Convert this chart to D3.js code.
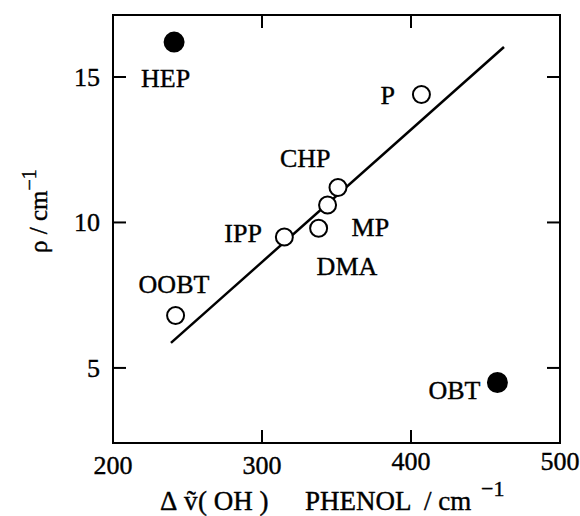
<!DOCTYPE html>
<html>
<head>
<meta charset="utf-8">
<script src="https://cdn.jsdelivr.net/npm/d3@7"></script>
<style>
  body { margin: 0; background: #fff; }
  text { font-family: "Liberation Serif", "DejaVu Serif", serif; fill: #000; stroke: #000; stroke-width: 0.4px; }
</style>
</head>
<body>
<svg id="chart" width="580" height="516"></svg>
<script>
// data
const names = ["HEP", "P", "CHP", "MP", "DMA", "IPP", "OOBT", "OBT"];
const dnu = [241, 407, 351, 344, 338, 315, 242, 458];
const rho = [16.2, 14.4, 11.2, 10.6, 9.8, 9.5, 6.8, 4.5];
const filled = [true, false, false, false, false, false, false, true];
const fitX = [238.9, 462.4];
const fitY = [5.86, 16.03];
const xTicks = [200, 300, 400, 500];
const yTicks = [5, 10, 15];

// label placement relative to the point (px)
const labelDx = [-33, -41, -58, 24, -2, -60, -37, -69];
const labelDy = [45, 10, -21, 31, 47, 5, -23, 17];

const svg = d3.select("#chart");
const pL = 113, pR = 560, pT = 15, pB = 443;

const x = d3.scaleLinear().domain([200, 500]).range([pL, pR]);
const y = d3.scaleLinear().domain([2.42, 17.13]).range([pB, pT]);

// frame
svg.append("rect")
  .attr("x", pL).attr("y", pT)
  .attr("width", pR - pL).attr("height", pB - pT)
  .attr("fill", "none").attr("stroke", "#000").attr("stroke-width", 2);

// ticks pointing inwards on all four sides
const tk = 13;
svg.selectAll(".ytl").data(yTicks).join("line")
  .attr("x1", pL).attr("x2", pL + tk)
  .attr("y1", d => y(d)).attr("y2", d => y(d))
  .attr("stroke", "#000").attr("stroke-width", 2);
svg.selectAll(".ytr").data(yTicks).join("line")
  .attr("x1", pR).attr("x2", pR - tk)
  .attr("y1", d => y(d)).attr("y2", d => y(d))
  .attr("stroke", "#000").attr("stroke-width", 2);
const innerX = xTicks.slice(1, -1);
svg.selectAll(".xtb").data(innerX).join("line")
  .attr("x1", d => x(d)).attr("x2", d => x(d))
  .attr("y1", pB).attr("y2", pB - tk)
  .attr("stroke", "#000").attr("stroke-width", 2);
svg.selectAll(".xtt").data(innerX).join("line")
  .attr("x1", d => x(d)).attr("x2", d => x(d))
  .attr("y1", pT).attr("y2", pT + tk)
  .attr("stroke", "#000").attr("stroke-width", 2);

// tick labels
svg.selectAll(".ylab").data(yTicks).join("text")
  .attr("x", pL - 13).attr("y", d => y(d) + 9)
  .attr("text-anchor", "end").attr("font-size", 26)
  .text(d => d);
svg.selectAll(".xlab").data(xTicks).join("text")
  .attr("x", d => x(d)).attr("y", d => d > 350 ? 470 : 474)
  .attr("text-anchor", "middle").attr("font-size", 26)
  .text(d => d);

// axis titles
const xt = svg.append("text")
  .attr("y", 510).attr("font-size", 27);
xt.append("tspan").attr("x", 160).text("\u0394");
xt.append("tspan").attr("x", 184).text("\u1E7D");
xt.append("tspan").attr("x", 198).text("( OH )");
xt.append("tspan").attr("x", 305).text("PHENOL");
xt.append("tspan").attr("x", 424).text("/ cm");
xt.append("tspan").attr("x", 481).attr("dy", -14).attr("font-size", 22).text("\u22121");

const yt = svg.append("text")
  .attr("transform", "translate(47,253) rotate(-90)")
  .attr("font-size", 25);
yt.append("tspan").text("\u03C1 / cm");
yt.append("tspan").attr("dy", -11).attr("font-size", 20).text("\u22121");

// fitted line
svg.append("line")
  .attr("x1", x(fitX[0])).attr("y1", y(fitY[0]))
  .attr("x2", x(fitX[1])).attr("y2", y(fitY[1]))
  .attr("stroke", "#000").attr("stroke-width", 2.5);

// points
svg.selectAll(".pt").data(names).join("circle")
  .attr("cx", (d, i) => x(dnu[i]))
  .attr("cy", (d, i) => y(rho[i]))
  .attr("r", (d, i) => filled[i] ? 9.5 : 8.5)
  .attr("fill", (d, i) => filled[i] ? "#000" : "#fff")
  .attr("stroke", "#000").attr("stroke-width", 2);

// point labels
svg.selectAll(".lbl").data(names).join("text")
  .attr("x", (d, i) => x(dnu[i]) + labelDx[i])
  .attr("y", (d, i) => y(rho[i]) + labelDy[i])
  .attr("font-size", 26)
  .text(d => d);
</script>
</body>
</html>
